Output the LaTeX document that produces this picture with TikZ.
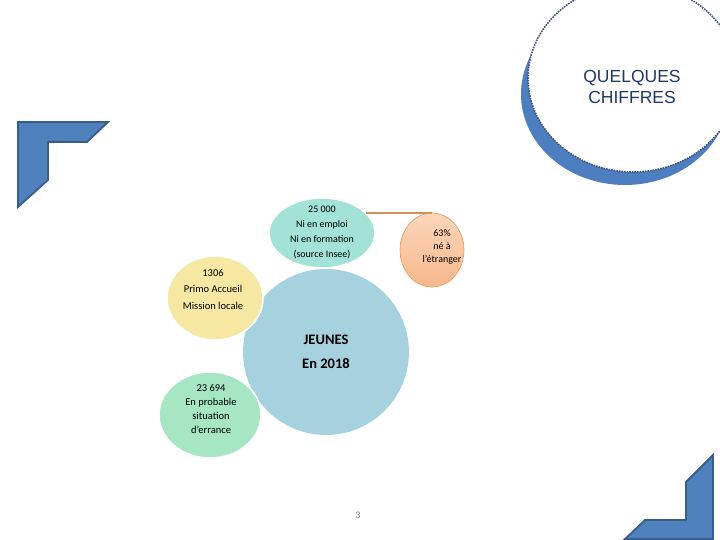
\documentclass[tikz,border=0pt]{standalone}
\usepackage{fontspec}
\setmainfont{Carlito}
\newfontfamily\titlefont{Liberation Sans}
\usetikzlibrary{shapes.geometric}
\definecolor{cornerblue}{RGB}{79,129,189}
\definecolor{cornerline}{RGB}{56,93,138}
\definecolor{ringblue}{RGB}{76,126,192}
\definecolor{ringdot}{RGB}{62,82,120}
\definecolor{titleblue}{RGB}{31,56,100}
\definecolor{youthblue}{RGB}{166,210,224}
\definecolor{tealfill}{RGB}{163,226,214}
\definecolor{yellowfill}{RGB}{246,231,162}
\definecolor{greenfill}{RGB}{166,230,194}
\definecolor{orangetop}{RGB}{252,214,186}
\definecolor{orangebot}{RGB}{247,184,140}
\definecolor{orangeline}{RGB}{228,150,92}
\definecolor{linkbrown}{RGB}{210,145,85}
\tikzset{
  cornershape/.style={fill=cornerblue, draw=cornerline, line width=1.8pt, line join=miter},
  bubble/.style={ellipse, draw=white, line width=1.5pt, inner sep=0pt},
  bubbletext/.style={align=center, inner sep=0pt, font=\fontsize{10}{14}\selectfont},
  bigbubble/.style={circle, fill=youthblue, inner sep=0pt, minimum size=166pt, align=center, font=\bfseries\fontsize{14.5}{24}\selectfont},
  titletext/.style={align=center, text=titleblue, font=\titlefont\fontsize{17.5}{21}\selectfont},
  linkline/.style={draw=linkbrown, line width=1.8pt},
  pagenum/.style={text=black!55, font=\fontsize{10}{12}\selectfont}
}
\begin{document}
\begin{tikzpicture}[x=1pt, y=-1pt]
  \useasboundingbox (0,0) rectangle (720,540);
  \clip (0,0) rectangle (720,540);
  % title ring
  \fill[ringblue] (625,94) ellipse [x radius=104, y radius=91];
  \draw[ringdot, densely dotted, line width=1.6pt, fill=white] (633,78) ellipse [x radius=105, y radius=94];
  \node[titletext] (title) at (632,87) {QUELQUES\\CHIFFRES};
  % corners
  \draw[cornershape] (18,122) -- (108,122) -- (87,142) -- (48,142) -- (48,180) -- (18,207) -- cycle;
  \draw[cornershape] (713,455) -- (713,539) -- (625,539) -- (645,520) -- (686,520) -- (686,482) -- cycle;
  % bubbles
  \node[bigbubble] (jeunes) at (326,352) {JEUNES\\En 2018};
  \node[bubble, fill=tealfill, minimum width=106pt, minimum height=70pt] (insee) at (322,233) {};
  \node[bubble, fill=yellowfill, minimum width=96pt, minimum height=84pt] (primo) at (215,298) {};
  \node[bubble, fill=greenfill, minimum width=102pt, minimum height=86pt] (errance) at (210,415) {};
  \node[bubble, draw=orangeline, line width=0.6pt, top color=orangetop, bottom color=orangebot, minimum width=64pt, minimum height=74pt] (etranger) at (432,250) {};
  \draw[linkline] (etranger.north -| insee.25) -- (etranger.north);
  % labels
  \node[bubbletext, font=\fontsize{10}{15}\selectfont] (inseelbl) at ([yshift=0.5pt]insee.center) {25 000\\Ni en emploi\\Ni en formation\\(source Insee)};
  \node[bubbletext, font=\fontsize{10.5}{16.5}\selectfont] (primolbl) at ([xshift=-2pt, yshift=9pt]primo.center) {1306\\Primo Accueil\\Mission locale};
  \node[bubbletext, font=\fontsize{10.5}{13.7}\selectfont] (errancelbl) at ([xshift=1pt, yshift=6pt]errance.center) {23 694\\En probable\\situation\\d'errance};
  \node[bubbletext, font=\fontsize{10}{13}\selectfont] (etrangerlbl) at ([xshift=10pt, yshift=3pt]etranger.center) {63\%\\né à\\l'étranger};
  \node[pagenum] (page) at (358,515) {3};
\end{tikzpicture}
\end{document}
